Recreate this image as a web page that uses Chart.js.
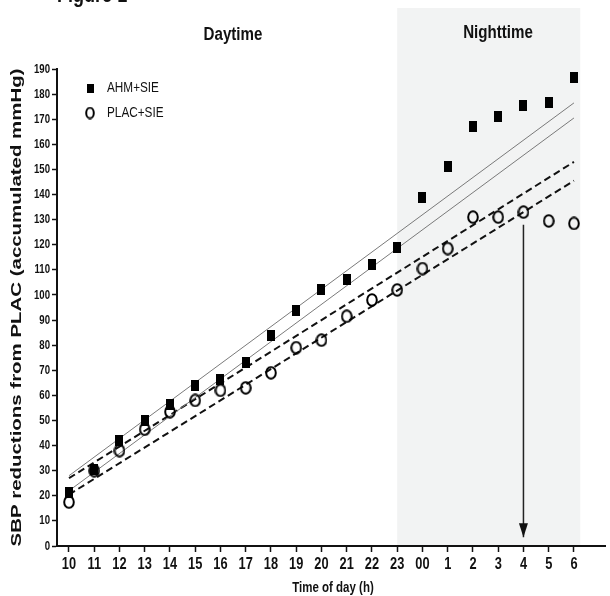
<!DOCTYPE html>
<html>
<head>
<meta charset="utf-8">
<script src="https://cdn.jsdelivr.net/npm/chart.js@4.4.0/dist/chart.umd.min.js"></script>
<style>
html, body { margin: 0; padding: 0; background: #fff; }
canvas { display: block; }
</style>
</head>
<body>
<canvas id="chart" width="610" height="596"></canvas>
<script>
const HOURS = ['10','11','12','13','14','15','16','17','18','19','20','21','22','23','00','1','2','3','4','5','6'];
const AHM_SIE = [21.5, 30.5, 42, 50, 56.5, 64, 66.5, 73, 84, 94, 102, 106, 112, 119, 139, 151, 167, 171, 175.5, 176.5, 186.5];
const PLAC_SIE = [17.5, 30, 38, 46.5, 53.5, 58, 62, 63, 69, 79, 82, 91.5, 98, 102, 110.5, 118.5, 131, 131, 133, 129.5, 128.5];
// fitted lines, value at first hour (10) and last hour (6)
const AHM_FIT_HI = [28, 176.5];
const AHM_FIT_LO = [22, 170.5];
const PLAC_FIT_HI = [27, 153];
const PLAC_FIT_LO = [20.5, 145.5];
const NIGHT_SPAN = [13, 20.25];
const ARROW_AT = 18;
const ARROW_FROM_TO = [128, 3.5];
const Y_TICKS = [0, 190, 10];

const FONT = '"Liberation Sans", Arial, sans-serif';

function squareMark(w, h) {
    const c = document.createElement('canvas');
    c.width = w; c.height = h;
    const g = c.getContext('2d');
    g.fillStyle = '#000';
    g.fillRect(0, 0, w, h);
    return c;
}

function circleMark(w, h) {
    const c = document.createElement('canvas');
    c.width = w; c.height = h;
    const g = c.getContext('2d');
    g.strokeStyle = '#000';
    g.lineWidth = 2;
    g.beginPath();
    g.ellipse(w / 2, h / 2, w / 2 - 1.2, h / 2 - 1.2, 0, 0, Math.PI * 2);
    g.stroke();
    return c;
}

const SQUARE = squareMark(8, 11);
const CIRCLE = circleMark(12, 14);
const LEGEND_MARKS = [squareMark(7, 9), circleMark(10, 13)];

const fit = (ends) => [{x: 0, y: ends[0]}, {x: HOURS.length - 1, y: ends[1]}];

function narrowText(ctx, text, x, y, font, squeeze, align) {
    ctx.save();
    ctx.font = font;
    ctx.textAlign = align || 'center';
    ctx.textBaseline = 'middle';
    ctx.translate(x, y);
    ctx.scale(squeeze, 1);
    ctx.fillText(text, 0, 0);
    ctx.restore();
}

const nightShade = {
    id: 'nightShade',
    beforeDraw(chart) {
        const {ctx, chartArea, scales: {x}} = chart;
        const x0 = x.getPixelForValue(NIGHT_SPAN[0]);
        const x1 = x.getPixelForValue(NIGHT_SPAN[1]);
        ctx.save();
        ctx.fillStyle = '#f2f3f3';
        ctx.fillRect(x0, 8, x1 - x0, chartArea.bottom - 8);
        ctx.restore();
    }
};

const decorations = {
    id: 'decorations',
    afterDraw(chart) {
        const {ctx, chartArea, scales: {x, y}} = chart;
        ctx.save();
        ctx.fillStyle = '#111';

        // arrow head
        const ax = x.getPixelForValue(ARROW_AT);
        const ay = y.getPixelForValue(ARROW_FROM_TO[1]);
        ctx.beginPath();
        ctx.moveTo(ax, ay);
        ctx.lineTo(ax - 4.5, ay - 14);
        ctx.lineTo(ax + 4.5, ay - 14);
        ctx.closePath();
        ctx.fill();

        // tick labels
        HOURS.forEach((h, i) => {
            narrowText(ctx, h, x.getPixelForValue(i), chartArea.bottom + 19, 'bold 16px ' + FONT, 0.8);
        });
        for (let v = Y_TICKS[0]; v <= Y_TICKS[1]; v += Y_TICKS[2]) {
            narrowText(ctx, String(v), chartArea.left - 7, y.getPixelForValue(v), 'bold 13px ' + FONT, 0.74, 'right');
        }

        // titles
        narrowText(ctx, 'Daytime', 233, 35, 'bold 18px ' + FONT, 0.84);
        narrowText(ctx, 'Nighttime', 498, 33, 'bold 18px ' + FONT, 0.84);
        narrowText(ctx, 'Time of day (h)', (chartArea.left + chartArea.right) / 2 + 2, 588, 'bold 14px ' + FONT, 0.82);
        narrowText(ctx, 'Figure 1', 57, -4, 'bold 22px ' + FONT, 0.82, 'left');

        // legend
        chart.data.datasets.filter(d => d.label).forEach((d, i) => {
            const ly = 88 + i * 25;
            const img = LEGEND_MARKS[i];
            ctx.drawImage(img, 90 - img.width / 2, ly - img.height / 2);
            narrowText(ctx, d.label, 107, ly, '14px ' + FONT, 0.84, 'left');
        });

        // y axis title, squeezed across like the original
        const title = 'SBP reductions from PLAC (accumulated mmHg)';
        ctx.font = 'bold 15px ' + FONT;
        const w = ctx.measureText(title).width;
        const cy = (chartArea.top + chartArea.bottom) / 2;
        ctx.translate(17, cy);
        ctx.rotate(-Math.PI / 2);
        ctx.scale(478 / w, 1);
        ctx.textAlign = 'center';
        ctx.textBaseline = 'middle';
        ctx.fillText(title, 0, 0);
        ctx.restore();
    }
};

new Chart(document.getElementById('chart'), {
    type: 'scatter',
    data: {
        datasets: [
            {label: 'AHM+SIE', data: AHM_SIE.map((v, i) => ({x: i, y: v})), pointStyle: SQUARE, order: 0},
            {label: 'PLAC+SIE', data: PLAC_SIE.map((v, i) => ({x: i, y: v})), pointStyle: CIRCLE, order: 0},
            {type: 'line', data: fit(AHM_FIT_HI), borderColor: '#7a7a7a', borderWidth: 1, pointRadius: 0, order: 2},
            {type: 'line', data: fit(AHM_FIT_LO), borderColor: '#7a7a7a', borderWidth: 1, pointRadius: 0, order: 2},
            {type: 'line', data: fit(PLAC_FIT_HI), borderColor: '#111', borderWidth: 2, borderDash: [7, 4], pointRadius: 0, order: 2},
            {type: 'line', data: fit(PLAC_FIT_LO), borderColor: '#111', borderWidth: 2, borderDash: [7, 4], pointRadius: 0, order: 2},
            {type: 'line', data: ARROW_FROM_TO.map(v => ({x: ARROW_AT, y: v})), borderColor: '#222', borderWidth: 1.5, pointRadius: 0, order: 1}
        ]
    },
    options: {
        responsive: false,
        animation: false,
        layout: {padding: {top: 69, right: 0, left: 0, bottom: 0}},
        plugins: {legend: {display: false}, tooltip: {enabled: false}},
        scales: {
            x: {
                type: 'linear',
                min: -0.475,
                max: 21.23,
                afterBuildTicks: s => { s.ticks = HOURS.map((_, i) => ({value: i})); },
                afterFit: s => { s.height = 50; },
                ticks: {display: false},
                grid: {drawOnChartArea: false, tickLength: 6, tickColor: '#111', tickWidth: 1.5},
                border: {color: '#111', width: 2}
            },
            y: {
                min: Y_TICKS[0],
                max: Y_TICKS[1],
                afterFit: s => { s.width = 57; },
                ticks: {stepSize: Y_TICKS[2], display: false},
                grid: {drawOnChartArea: false, tickLength: 5, tickColor: '#111', tickWidth: 1.5},
                border: {color: '#111', width: 2}
            }
        }
    },
    plugins: [nightShade, decorations]
});
</script>
</body>
</html>
